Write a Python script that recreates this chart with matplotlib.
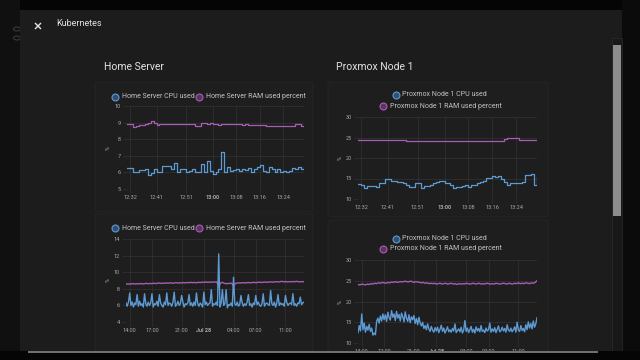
#!/usr/bin/env python3
"""Kubernetes dialog: Home Server / Proxmox Node 1 CPU and RAM history cards."""
import numpy as np
import matplotlib

matplotlib.use("Agg")
import matplotlib.pyplot as plt
from matplotlib.patches import Rectangle, FancyBboxPatch, Circle
from matplotlib.lines import Line2D

plt.rcParams["font.family"] = ["Roboto", "DejaVu Sans"]

W, H = 640, 360

# ---- last hour (minutes after 12:00, one sample per minute) ----
HOUR_X = list(range(31, 92))
HOUR_TICKS = [32, 41, 51, 60, 68, 76, 84]
HOUR_LABELS = ["12:32", "12:41", "12:51", "13:00", "13:08", "13:16", "13:24"]

HS_CPU_1H = [6.25, 6.25, 6.0, 6.0, 6.15, 6.15, 6.2, 5.85, 5.95, 6.2,
             6.0, 6.0, 6.4, 6.4, 6.4, 6.2, 6.55, 6.0, 6.2, 6.2,
             6.0, 6.1, 6.2, 6.05, 6.0, 6.5, 6.0, 6.7, 6.1, 5.9,
             6.0, 6.2, 7.2, 6.0, 6.3, 6.1, 6.15, 6.2, 6.1, 6.2,
             6.15, 6.25, 6.0, 6.2, 6.3, 6.45, 6.1, 6.0, 6.3, 6.2,
             6.0, 6.2, 6.0, 6.1, 6.0, 6.1, 6.25, 6.2, 6.3, 6.2, 6.3]
HS_RAM_1H = [8.9, 8.9, 8.75, 8.8, 8.85, 8.85, 8.9, 8.95, 9.1, 8.95,
             8.85, 8.9, 8.9, 8.9, 8.9, 8.9, 8.9, 8.9, 8.9, 8.9,
             8.9, 8.9, 8.9, 8.8, 8.8, 9.0, 9.0, 8.9, 8.95, 8.9,
             8.9, 8.85, 8.9, 8.9, 8.9, 8.9, 8.9, 8.9, 8.9, 8.85,
             8.9, 8.85, 8.85, 8.85, 8.85, 8.85, 8.85, 8.8, 8.8, 8.8,
             8.8, 8.8, 8.8, 8.8, 8.8, 8.8, 8.8, 8.9, 8.9, 8.8, 8.8]
PX_CPU_1H = [13.6, 13.4, 12.8, 13.2, 13.2, 13.2, 13.0, 13.8, 13.8, 14.8,
             14.8, 14.5, 14.5, 14.2, 14.2, 14.0, 13.5, 13.0, 13.0, 13.8,
             13.8, 12.8, 13.2, 13.2, 13.5, 13.8, 14.2, 14.5, 14.5, 14.0,
             13.8, 13.5, 12.8, 13.0, 13.0, 13.2, 13.3, 13.0, 13.3, 13.5,
             13.8, 14.2, 14.5, 15.2, 15.2, 15.5, 15.3, 15.5, 14.8, 14.2,
             13.5, 14.0, 14.0, 13.8, 13.8, 14.2, 15.8, 15.8, 16.0, 13.5, 15.3]
PX_RAM_1H = [24.4, 24.4, 24.4, 24.4, 24.4, 24.4, 24.4, 24.4, 24.4, 24.4,
             24.4, 24.4, 24.4, 24.4, 24.4, 24.4, 24.2, 24.2, 24.2, 24.2,
             24.2, 24.2, 24.2, 24.2, 24.2, 24.2, 24.2, 24.2, 24.2, 24.2,
             24.2, 24.2, 24.2, 24.2, 24.2, 24.2, 24.2, 24.2, 24.2, 24.2,
             24.2, 24.2, 24.2, 24.2, 24.2, 24.2, 24.2, 24.2, 24.2, 24.6,
             25.0, 25.0, 25.0, 25.0, 24.5, 24.3, 24.3, 24.3, 24.3, 24.3, 24.3]

# ---- last 24 h (hours after Jul 27 00:00) ----
DAY_TICKS = [14, 17, 21, 24, 28, 31, 35]
DAY_LABELS = ["14:00", "17:00", "21:00", "Jul 28", "04:00", "07:00", "11:00"]
DAY_X_CPU = np.linspace(13.5, 37.5, 145)   # every 10 min
DAY_X_RAM = np.linspace(13.5, 37.5, 97)    # every 15 min

HS_CPU_24H = [6.3, 5.9, 6.4,
              7.5, 6.0, 6.4, 5.8, 6.3, 6.1,
              7.3, 5.9, 6.5, 6.0, 6.2, 5.8,
              7.4, 6.2, 5.9, 6.4, 6.0, 6.3,
              7.4, 5.8, 6.2, 6.1, 6.5, 5.9,
              7.3, 6.3, 6.0, 5.8, 6.4, 6.1,
              7.5, 6.0, 6.3, 6.2, 5.9, 6.4,
              7.6, 5.9, 6.1, 6.5, 6.0, 6.2,
              7.2, 6.4, 5.8, 6.2, 6.1, 6.3,
              7.3, 6.0, 6.3, 5.9, 6.4, 6.0,
              7.5, 6.2, 5.9, 6.3, 6.1, 5.8,
              7.6, 6.1, 6.4, 6.0, 6.2, 6.3,
              7.9, 5.9, 6.2, 6.1, 6.4, 6.0,
              12.2, 5.8, 6.3, 7.9, 6.0, 6.2,
              7.9, 5.7, 6.1, 6.0, 6.3, 5.9,
              9.4, 6.2, 6.0, 6.4, 5.9, 6.1,
              7.2, 6.3, 5.9, 6.2, 6.0, 6.4,
              7.3, 6.0, 6.2, 5.8, 6.3, 6.1,
              7.2, 6.1, 6.4, 6.0, 5.9, 6.2,
              7.4, 5.9, 6.2, 6.3, 6.1, 6.0,
              7.8, 6.2, 6.0, 6.4, 5.8, 6.3,
              7.3, 6.0, 6.3, 6.1, 6.2, 5.9,
              7.2, 6.4, 6.0, 6.2, 6.3, 6.1,
              7.4, 6.0, 6.2, 5.9, 6.3, 6.2,
              7.0, 6.1, 6.3, 6.4]
HS_RAM_24H = [8.62, 8.55, 8.60, 8.58, 8.63, 8.57, 8.61, 8.59,
              8.64, 8.58, 8.62, 8.66, 8.60, 8.65, 8.62, 8.68,
              8.63, 8.67, 8.70, 8.65, 8.69, 8.66, 8.71, 8.68,
              8.72, 8.67, 8.70, 8.74, 8.69, 8.73, 8.70, 8.75,
              8.71, 8.76, 8.73, 8.78, 8.74, 8.77, 8.72, 8.79,
              8.75, 8.80, 8.77, 8.82, 8.78, 8.81, 8.79, 8.83,
              8.80, 8.84, 8.20, 8.70, 8.78, 8.66, 8.62, 8.64,
              8.65, 8.68, 8.30, 8.66, 8.69, 8.72, 8.70, 8.74,
              8.71, 8.73, 8.76, 8.72, 8.75, 8.78, 8.74, 8.77,
              8.80, 8.76, 8.79, 8.82, 8.78, 8.81, 8.84, 8.80,
              8.83, 8.86, 8.82, 8.85, 8.90, 8.84, 8.87, 8.83,
              8.86, 8.84, 8.88, 8.85, 8.90, 8.86, 8.84, 8.87,
              8.85]
PX_CPU_24H = [12.5, 14.2, 12.9,
              17.0, 13.2, 14.8, 12.6, 14.0, 13.1,
              14.5, 12.8, 13.6, 11.9, 12.4, 12.0,
              15.2, 16.0, 14.8, 16.5, 15.3, 17.0,
              15.6, 16.8, 15.2, 17.4, 16.1, 15.5,
              17.8, 16.2, 17.0, 15.4, 17.6, 16.0,
              16.9, 15.3, 17.2, 16.4, 15.1, 17.5,
              16.0, 15.2, 16.8, 14.9, 16.3, 15.6,
              16.6, 14.7, 15.9, 14.4, 16.2, 14.8,
              14.1, 15.0, 13.5, 14.2, 13.2, 14.6,
              13.4, 12.8, 14.0, 13.1, 12.6, 13.7,
              12.9, 13.8, 12.5, 13.3, 14.3, 12.8,
              13.6, 12.4, 13.1, 13.9, 12.7, 13.2,
              12.6, 13.5, 12.9, 14.6, 12.5, 13.0,
              13.4, 12.7, 13.8, 12.4, 13.1, 15.4,
              12.8, 13.6, 12.5, 13.2, 14.0, 12.6,
              13.3, 12.4, 13.9, 12.9, 13.5, 12.7,
              14.2, 12.8, 13.1, 12.5, 13.6, 12.9,
              13.2, 14.8, 12.6, 13.4, 12.8, 13.7,
              12.5, 13.3, 14.1, 12.7, 13.0, 13.8,
              12.9, 13.5, 12.6, 14.4, 13.1, 12.8,
              13.6, 12.7, 13.2, 13.9, 12.6, 15.0,
              13.1, 12.8, 14.2, 13.0, 13.5, 12.7,
              14.4, 13.2, 15.1, 13.6, 14.7, 13.4,
              15.3, 13.8, 14.6, 16.1]
PX_RAM_24H = [24.1, 24.0, 24.2, 24.1, 24.0, 24.2, 24.1, 24.3,
              24.2, 24.4, 24.3, 24.5, 24.4, 24.6, 24.5, 24.4,
              24.6, 24.5, 24.7, 24.6, 24.8, 24.6, 24.7, 24.8,
              24.7, 24.9, 24.8, 24.7, 24.9, 24.8, 24.6, 24.8,
              24.7, 24.6, 24.5, 24.6, 24.4, 24.5, 24.3, 24.4,
              24.3, 24.4, 24.2, 24.3, 24.4, 24.2, 24.3, 24.4,
              24.2, 24.3, 24.4, 24.2, 24.3, 24.1, 24.3, 24.2,
              24.3, 24.2, 24.4, 24.3, 24.2, 24.3, 24.4, 24.2,
              24.3, 24.4, 24.2, 24.3, 24.2, 24.4, 24.3, 24.2,
              24.3, 24.2, 24.4, 24.3, 24.2, 24.3, 24.4, 24.3,
              24.2, 24.4, 24.3, 24.2, 24.4, 24.3, 24.5, 24.3,
              24.4, 24.3, 24.5, 24.4, 24.3, 24.5, 24.4, 24.6,
              25.0]

BLUE = "#5b9bd5"
PURPLE = "#a85cb6"
BG = "#1c1c1c"
GRID = "#333333"
TICK = "#a8a8a8"
TXT = "#e3e3e3"


def fx(x):
    return x / W


def fy(y):
    return 1 - y / H


def rect(fig, x0, y0, x1, y1, color, z=-5, **kw):
    fig.add_artist(Rectangle((fx(x0), fy(y1)), (x1 - x0) / W, (y1 - y0) / H,
                             transform=fig.transFigure, facecolor=color,
                             edgecolor=kw.pop("edge", "none"), lw=kw.pop("lw", 0),
                             zorder=z, **kw))


def legend_item(fig, x, y, label, color, fill):
    fig.add_artist(Line2D([fx(x)], [fy(y)], transform=fig.transFigure,
                          marker="o", ms=5.0, mfc=fill, mec=color, mew=0.8,
                          ls="none", zorder=3))
    fig.text(fx(x + 6.5), fy(y), label, color="#c4c4c4", fontsize=5,
             va="center", ha="left")


def chart(fig, box, series, xlim, ylim, yticks, xticks, xlabels, bold, ylab_x,
          step=False):
    x0, y0, x1, y1 = box
    ax = fig.add_axes([fx(x0), fy(y1), (x1 - x0) / W, (y1 - y0) / H])
    ax.set_facecolor("none")
    for s in ax.spines.values():
        s.set_visible(False)
    for xs, ys, c in series:
        if step:
            ax.plot(xs, ys, color=c, lw=0.9, drawstyle="steps-post")
        else:
            ax.plot(xs, ys, color=c, lw=1.0)
    ax.set_xlim(*xlim)
    ax.set_ylim(*ylim)
    ax.set_yticks(yticks)
    ax.set_xticks(xticks)
    ax.set_xticklabels(xlabels)
    for lab in ax.get_xticklabels():
        if lab.get_text() == bold:
            lab.set_fontweight("bold")
    ax.grid(True, color=GRID, lw=0.5)
    ax.set_axisbelow(True)
    ax.tick_params(colors=GRID, labelcolor=TICK, labelsize=4, length=3,
                   width=0.5, pad=1.5)
    fig.text(fx(ylab_x), fy((y0 + y1) / 2), "%", rotation=90, color=TICK,
             fontsize=4, ha="center", va="center")
    return ax


fig = plt.figure(figsize=(W / 100, H / 100), dpi=100, facecolor="#050505")

# page behind the dialog
rect(fig, 0, 0, 20, H, "#101010", z=-9)
for cy in (29, 38):
    fig.add_artist(Circle((fx(17), fy(cy)), 3.5 / W, transform=fig.transFigure,
                          facecolor="none", edgecolor="#3a3a3a", lw=0.8, zorder=-8))
rect(fig, 622, 0, W, H, "#0b0b0b", z=-9)

# dialog
rect(fig, 20, 10, 622, 352, BG, z=-7)

# cards
for (cx0, cy0, cx1, cy1) in [(95, 82, 313, 212), (95, 214, 313, 360),
                             (328, 82, 548, 217), (328, 220, 548, 360)]:
    fig.add_artist(FancyBboxPatch((fx(cx0), fy(cy1)), (cx1 - cx0) / W,
                                  (cy1 - cy0) / H, boxstyle="round,pad=0,rounding_size=0.006",
                                  transform=fig.transFigure, facecolor="#1e1e1e",
                                  edgecolor="#272727", lw=0.6, zorder=-6))

# header
fig.add_artist(Line2D([fx(35.5), fx(40.5)], [fy(23.5), fy(28.5)], transform=fig.transFigure,
                      color="#e6e6e6", lw=1.0))
fig.add_artist(Line2D([fx(35.5), fx(40.5)], [fy(28.5), fy(23.5)], transform=fig.transFigure,
                      color="#e6e6e6", lw=1.0))
fig.text(fx(56), fy(23), "Kubernetes", color=TXT, fontsize=6.5, va="center")

fig.text(fx(104), fy(67), "Home Server", color=TXT, fontsize=7.5, va="center")
fig.text(fx(336), fy(67), "Proxmox Node 1", color=TXT, fontsize=7.5, va="center")

# Home Server, last hour
legend_item(fig, 115, 97, "Home Server CPU used", BLUE, "#34506e")
legend_item(fig, 199, 97, "Home Server RAM used percent", PURPLE, "#5a3560")
chart(fig, (127, 106, 304, 189),
      [(HOUR_X, HS_CPU_1H, BLUE), (HOUR_X, HS_RAM_1H, PURPLE)],
      (31, 91), (5, 10), [5, 6, 7, 8, 9, 10], HOUR_TICKS, HOUR_LABELS, "13:00",
      108, step=True)

# Home Server, last 24 h
legend_item(fig, 115, 228, "Home Server CPU used", BLUE, "#34506e")
legend_item(fig, 199, 228, "Home Server RAM used percent", PURPLE, "#5a3560")
chart(fig, (126, 239, 304, 322),
      [(DAY_X_RAM, HS_RAM_24H, PURPLE), (DAY_X_CPU, HS_CPU_24H, BLUE)],
      (13.5, 37.5), (4, 14), [4, 6, 8, 10, 12, 14], DAY_TICKS, DAY_LABELS, "Jul 28",
      108)

# Proxmox, last hour
legend_item(fig, 396, 95, "Proxmox Node 1 CPU used", BLUE, "#34506e")
legend_item(fig, 383, 106, "Proxmox Node 1 RAM used percent", PURPLE, "#5a3560")
chart(fig, (358, 117, 537, 199),
      [(HOUR_X, PX_CPU_1H, BLUE), (HOUR_X, PX_RAM_1H, PURPLE)],
      (31, 91), (10, 30), [10, 15, 20, 25, 30], HOUR_TICKS, HOUR_LABELS, "13:00",
      340, step=True)

# Proxmox, last 24 h
legend_item(fig, 396, 239, "Proxmox Node 1 CPU used", BLUE, "#34506e")
legend_item(fig, 383, 249, "Proxmox Node 1 RAM used percent", PURPLE, "#5a3560")
chart(fig, (358, 260, 537, 343),
      [(DAY_X_RAM, PX_RAM_24H, PURPLE), (DAY_X_CPU, PX_CPU_24H, BLUE)],
      (13.5, 37.5), (10, 30), [10, 15, 20, 25, 30], DAY_TICKS, DAY_LABELS, "Jul 28",
      340)

# scrollbar
rect(fig, 612, 38, 622, 351, "#181818", z=5, edge="#2c2c2c", lw=0.5)
rect(fig, 613, 45, 621, 216, "#8c8c8c", z=6)

# dialog bottom cut-off
rect(fig, 0, 351, W, H, "#050505", z=10)
rect(fig, 28, 351, 598, 353, "#707070", z=11)

fig.savefig("out.png", dpi=100, facecolor=fig.get_facecolor())
